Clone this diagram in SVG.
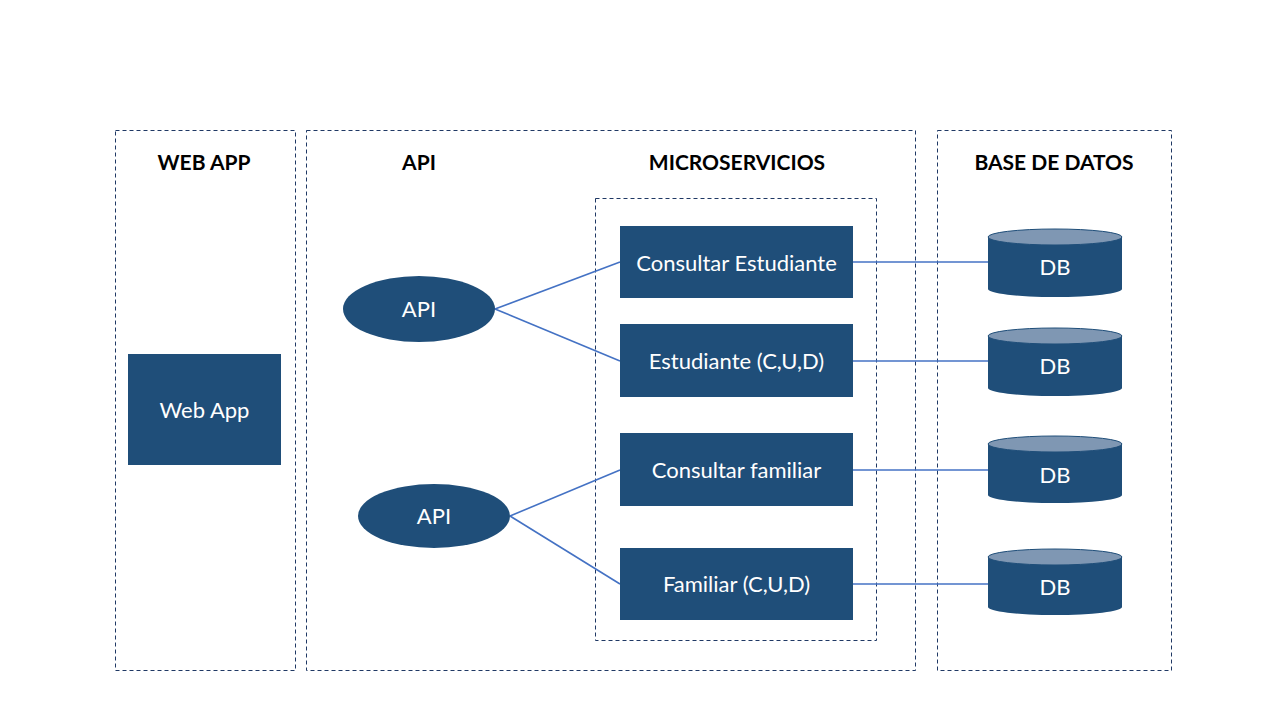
<svg xmlns="http://www.w3.org/2000/svg" width="1280" height="720" viewBox="0 0 1280 720">
<style>
.frame{fill:none;stroke:#1F3864;stroke-width:1;stroke-dasharray:4 3}
.node{fill:#1F4E79}
.top{fill:#7F97B3;stroke:#1F4E79;stroke-width:1}
.hdr{font-family:Lato,"Liberation Sans",sans-serif;font-weight:bold;font-size:21px;fill:#000;text-anchor:middle}
.lbl{font-family:Lato,"Liberation Sans",sans-serif;font-size:22px;fill:#fff;text-anchor:middle;dominant-baseline:central}
.conn{stroke:#4472C4;stroke-width:1.6;fill:none}
</style>
<rect width="1280" height="720" fill="#fff"/>
<g id="frames">
<rect class="frame" x="115.5" y="130.5" width="180" height="540"/>
<rect class="frame" x="306.5" y="130.5" width="609" height="540"/>
<rect class="frame" x="595.5" y="198.5" width="281" height="442"/>
<rect class="frame" x="937.5" y="130.5" width="234" height="540"/>
</g>
<g id="headers">
<text class="hdr" x="204" y="170">WEB APP</text>
<text class="hdr" x="419" y="170">API</text>
<text class="hdr" x="737" y="170">MICROSERVICIOS</text>
<text class="hdr" x="1054" y="170">BASE DE DATOS</text>
</g>
<g id="connectors">
<line class="conn" x1="495" y1="309" x2="620" y2="262"/>
<line class="conn" x1="495" y1="309" x2="620" y2="361"/>
<line class="conn" x1="510" y1="516" x2="620" y2="470"/>
<line class="conn" x1="510" y1="516" x2="620" y2="584"/>
<line class="conn" x1="853" y1="262" x2="988" y2="262"/>
<line class="conn" x1="853" y1="361" x2="988" y2="361"/>
<line class="conn" x1="853" y1="470" x2="988" y2="470"/>
<line class="conn" x1="853" y1="584" x2="988" y2="584"/>
</g>
<g id="webapp"><rect class="node" x="128" y="354" width="153" height="111"/><text class="lbl" x="204.5" y="409">Web App</text></g>
<g id="api1"><ellipse class="node" cx="419" cy="309" rx="76" ry="33"/><text class="lbl" x="419" y="308">API</text></g>
<g id="api2"><ellipse class="node" cx="434" cy="516" rx="76" ry="32"/><text class="lbl" x="434" y="515">API</text></g>
<g id="ms1"><rect class="node" x="620" y="226" width="233" height="72"/><text class="lbl" x="736.5" y="262">Consultar Estudiante</text></g>
<g id="ms2"><rect class="node" x="620" y="324" width="233" height="73"/><text class="lbl" x="736.5" y="360">Estudiante (C,U,D)</text></g>
<g id="ms3"><rect class="node" x="620" y="433" width="233" height="73"/><text class="lbl" x="736.5" y="469">Consultar familiar</text></g>
<g id="ms4"><rect class="node" x="620" y="548" width="233" height="72"/><text class="lbl" x="736.5" y="583">Familiar (C,U,D)</text></g>
<g id="db1"><path class="node" d="M988,237 V289 A67,8 0 0 0 1122,289 V237 Z"/><ellipse class="top" cx="1055" cy="237" rx="67" ry="8"/><text class="lbl" x="1055" y="266">DB</text></g>
<g id="db2"><path class="node" d="M988,336 V388 A67,8 0 0 0 1122,388 V336 Z"/><ellipse class="top" cx="1055" cy="336" rx="67" ry="8"/><text class="lbl" x="1055" y="365">DB</text></g>
<g id="db3"><path class="node" d="M988,444 V495 A67,8 0 0 0 1122,495 V444 Z"/><ellipse class="top" cx="1055" cy="444" rx="67" ry="8"/><text class="lbl" x="1055" y="474">DB</text></g>
<g id="db4"><path class="node" d="M988,557 V607 A67,8 0 0 0 1122,607 V557 Z"/><ellipse class="top" cx="1055" cy="557" rx="67" ry="8"/><text class="lbl" x="1055" y="586">DB</text></g>
</svg>
